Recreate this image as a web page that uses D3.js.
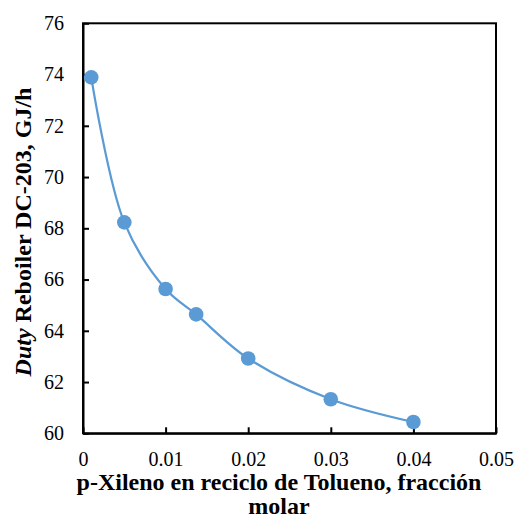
<!DOCTYPE html>
<html>
<head>
<meta charset="utf-8">
<script src="https://cdn.jsdelivr.net/npm/d3@7"></script>
<style>
  html, body { margin: 0; padding: 0; background: #fff; }
  svg { display: block; }
</style>
</head>
<body>
<div id="chart"></div>
<script>
// Toluene recycle p-xylene fraction vs. reboiler duty of DC-203
const xValues = [0.001, 0.005, 0.010, 0.0137, 0.020, 0.030, 0.040];
const dutyValues = [73.89, 68.23, 65.63, 64.64, 62.92, 61.33, 60.44];
const xTicks = [0, 0.01, 0.02, 0.03, 0.04, 0.05];
const yTicks = [60, 62, 64, 66, 68, 70, 72, 74, 76];
const xTitleLines = ["p-Xileno en reciclo de Tolueno, fracción", "molar"];

const FONT = "Liberation Serif";
const width = 516, height = 518;
const plot = { left: 83, right: 496, top: 23.3, bottom: 433.3 };

const svg = d3.select("#chart").append("svg")
  .attr("width", width).attr("height", height)
  .attr("font-family", FONT);

const x = d3.scaleLinear().domain([0, 0.05]).range([plot.left, plot.right]);
const y = d3.scaleLinear().domain([60, 76]).range([plot.bottom, plot.top]);

// Plot frame
svg.append("rect")
  .attr("x", plot.left).attr("y", plot.top)
  .attr("width", plot.right - plot.left).attr("height", plot.bottom - plot.top)
  .attr("fill", "none").attr("stroke", "#000").attr("stroke-width", 2);

// Axes with inward ticks
const xAxis = d3.axisBottom(x).tickValues(xTicks)
  .tickFormat(d => d === 0 ? "0" : d3.format(".2f")(d))
  .tickSizeInner(-6).tickSizeOuter(0).tickPadding(19);
const gx = svg.append("g").attr("transform", `translate(0,${plot.bottom})`).call(xAxis);

const yAxis = d3.axisLeft(y).tickValues(yTicks)
  .tickSizeInner(-6).tickSizeOuter(0).tickPadding(19);
const gy = svg.append("g").attr("transform", `translate(${plot.left},0)`).call(yAxis);

[gx, gy].forEach(g => {
  g.attr("font-family", FONT).attr("font-size", 20);
  g.select(".domain").attr("stroke", "#000").attr("stroke-width", 2);
  g.selectAll(".tick line").attr("stroke", "#000").attr("stroke-width", 2);
  g.selectAll(".tick text").attr("font-family", FONT).attr("font-size", 20).attr("fill", "#000");
});

// Smoothed series line
const data = xValues.map((v, i) => ({ x: v, y: dutyValues[i] }));
const line = d3.line().x(d => x(d.x)).y(d => y(d.y)).curve(d3.curveCatmullRom.alpha(0.5));
svg.append("path").datum(data)
  .attr("d", line).attr("fill", "none")
  .attr("stroke", "#5B9BD5").attr("stroke-width", 2.25);

svg.selectAll("circle.pt").data(data).enter().append("circle")
  .attr("class", "pt")
  .attr("cx", d => x(d.x)).attr("cy", d => y(d.y)).attr("r", 7.3)
  .attr("fill", "#5B9BD5");

// X axis title (two lines)
const xt = svg.append("text")
  .attr("text-anchor", "middle").attr("font-family", FONT)
  .attr("font-size", 24).attr("font-weight", "bold").attr("fill", "#000");
xTitleLines.forEach((t, i) => {
  xt.append("tspan").attr("x", 279).attr("y", 490 + i * 24).text(t);
});

// Y axis title
const yt = svg.append("text")
  .attr("transform", `translate(31,232) rotate(-90)`)
  .attr("text-anchor", "middle").attr("font-family", FONT)
  .attr("font-size", 24).attr("font-weight", "bold").attr("fill", "#000");
yt.append("tspan").attr("font-style", "italic").text("Duty");
yt.append("tspan").text(" Reboiler DC-203, GJ/h");
</script>
</body>
</html>
